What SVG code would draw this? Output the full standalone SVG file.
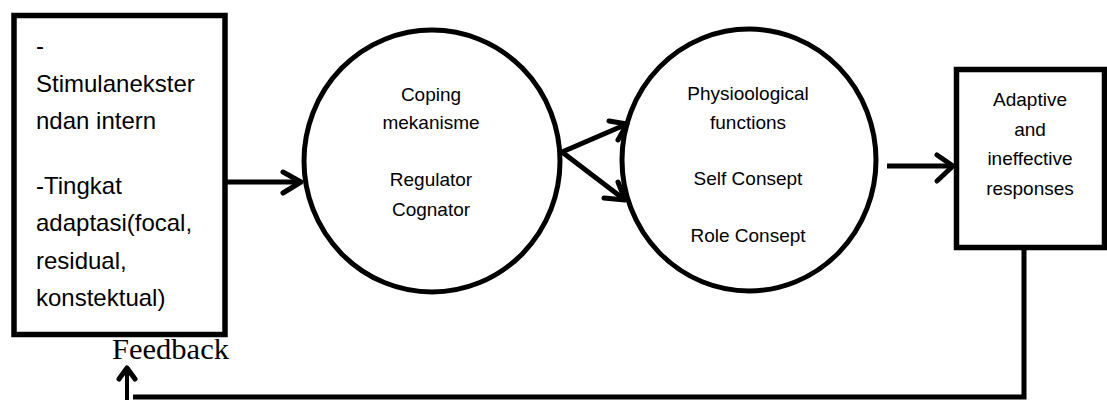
<svg xmlns="http://www.w3.org/2000/svg" width="1107" height="403" viewBox="0 0 1107 403">
<style>
.box{fill:#fff;stroke:#000;stroke-width:5.5}
.circ{fill:#fff;stroke:#000;stroke-width:5}
.t{font-family:"Liberation Sans",Arial,sans-serif;font-size:19px;fill:#000;text-anchor:middle}
.tl{font-family:"Liberation Sans",Arial,sans-serif;font-size:24px;fill:#000}
.fb{font-family:"Liberation Serif","Times New Roman",serif;font-size:30px;fill:#000}
.ln{fill:none;stroke:#000;stroke-width:5;stroke-linecap:butt}
.hd{fill:none;stroke:#000;stroke-width:5;stroke-linecap:round;stroke-linejoin:round}
</style>
<rect width="1107" height="403" fill="#fff"/>
<g id="node-stimulus">
<rect class="box" x="14" y="15.5" width="211" height="319"/>
<text class="tl" x="36" y="54">-</text>
<text class="tl" x="36" y="92">Stimulanekster</text>
<text class="tl" x="36" y="129">ndan intern</text>
<text class="tl" x="36" y="194">-Tingkat</text>
<text class="tl" x="36" y="231">adaptasi(focal,</text>
<text class="tl" x="36" y="269">residual,</text>
<text class="tl" x="36" y="306">konstektual)</text>
</g>
<g id="node-coping">
<ellipse class="circ" cx="432" cy="161" rx="128" ry="131"/>
<text class="t" x="431" y="101">Coping</text>
<text class="t" x="431" y="129">mekanisme</text>
<text class="t" x="431" y="186">Regulator</text>
<text class="t" x="431" y="216">Cognator</text>
</g>
<g id="node-modes">
<ellipse class="circ" cx="749" cy="160" rx="127" ry="131"/>
<text class="t" x="748" y="100">Physioological</text>
<text class="t" x="748" y="129">functions</text>
<text class="t" x="748" y="185">Self Consept</text>
<text class="t" x="748" y="242">Role Consept</text>
</g>
<g id="node-responses">
<rect class="box" x="956.5" y="69.5" width="148" height="178"/>
<text class="t" x="1030" y="106">Adaptive</text>
<text class="t" x="1030" y="136">and</text>
<text class="t" x="1030" y="165">ineffective</text>
<text class="t" x="1030" y="195">responses</text>
</g>
<g id="label-feedback">
<text class="fb" x="112" y="359" textLength="117" lengthAdjust="spacingAndGlyphs">Feedback</text>
</g>
<g id="connectors">
<line class="ln" x1="227" y1="182" x2="300" y2="182"/>
<polyline class="hd" points="283,172 301,182 283,193"/>
<line class="ln" x1="562" y1="152" x2="627" y2="124"/>
<polyline class="hd" points="609,121 627,124 618,140"/>
<line class="ln" x1="562" y1="152" x2="625" y2="200"/>
<polyline class="hd" points="618,182 625,200 604,198"/>
<line class="ln" x1="887" y1="166" x2="953" y2="166"/>
<polyline class="hd" points="937,155 953,166 937,181"/>
<polyline class="ln" points="1024,249 1024,397 133,397"/>
<line class="ln" x1="127" y1="400" x2="127" y2="369" style="stroke-width:4"/>
<polyline class="hd" points="119,379 127,368 135,379"/>
</g>
</svg>
